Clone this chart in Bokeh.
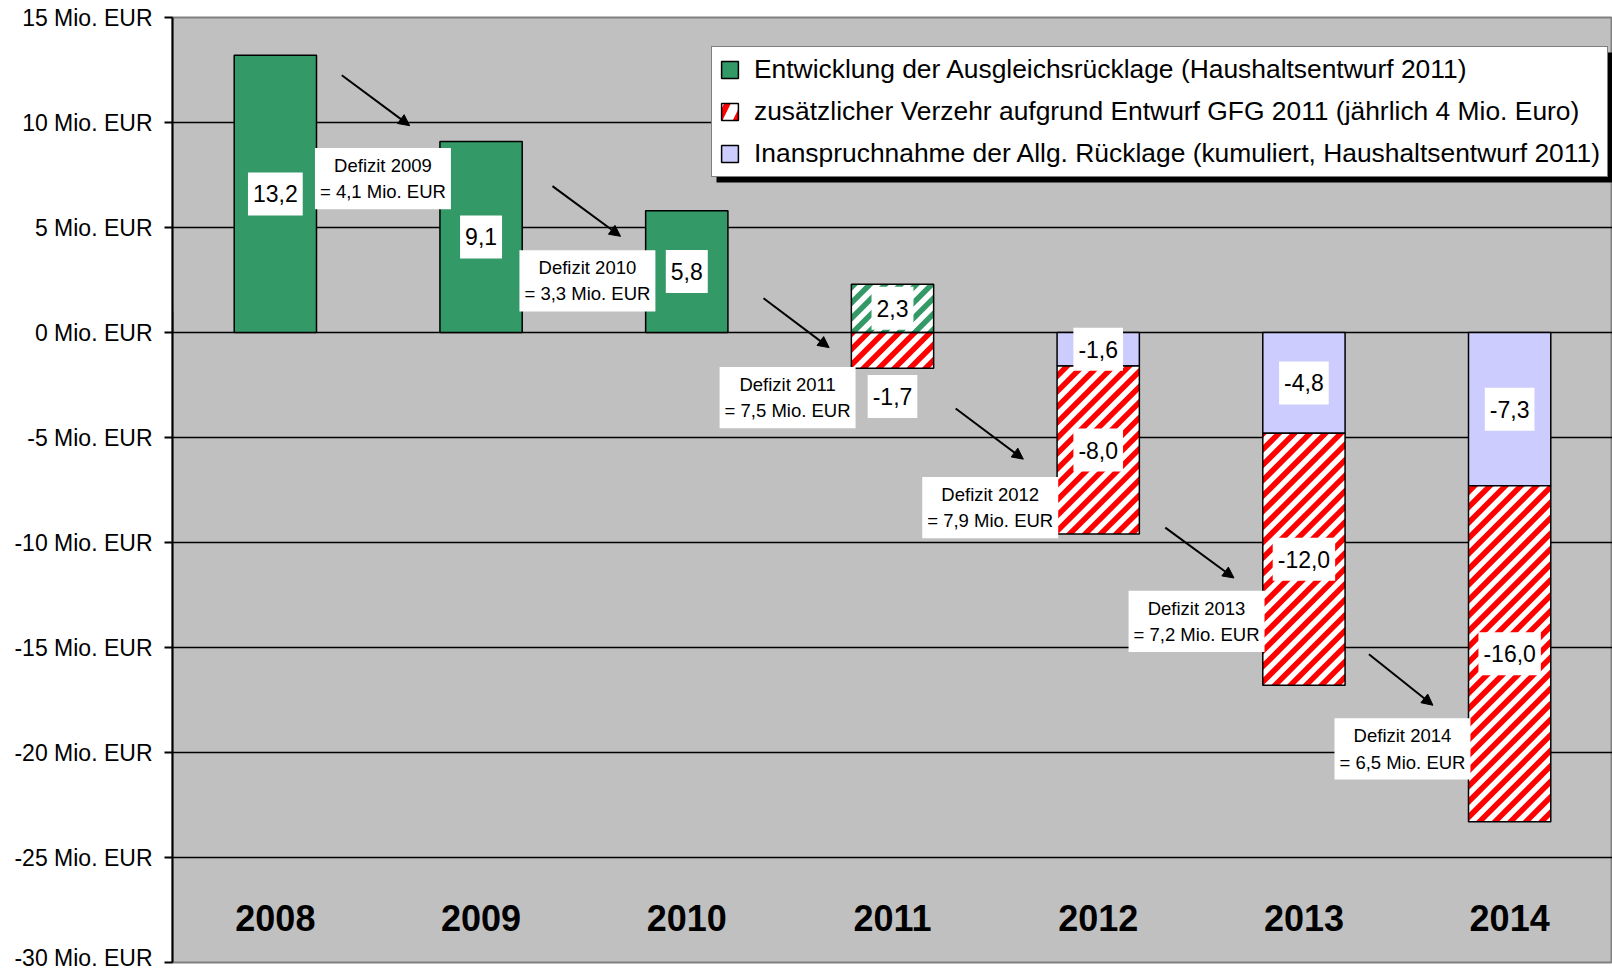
import math
from bokeh.plotting import figure
from bokeh.models import (Range1d, ColumnDataSource, Label, Arrow, NormalHead, Legend,
                          LegendItem, FixedTicker, CustomJSTickFormatter, BoxAnnotation)
from bokeh.core.properties import value
from bokeh.embed import file_html
from bokeh.resources import INLINE

# ---------------- data ----------------
years = ["2008", "2009", "2010", "2011", "2012", "2013", "2014"]
ausgleichsruecklage = [13.2, 9.1, 5.8, 2.3, 0.0, 0.0, 0.0]
zusaetzlicher_verzehr = [0.0, 0.0, 0.0, -1.7, -8.0, -12.0, -16.0]
allg_ruecklage = [0.0, 0.0, 0.0, 0.0, -1.6, -4.8, -7.3]
defizit = [None, 4.1, 3.3, 7.5, 7.9, 7.2, 6.5]
y_ticks = [-30, -25, -20, -15, -10, -5, 0, 5, 10, 15]
legend_labels = [
    "Entwicklung der Ausgleichsrücklage (Haushaltsentwurf 2011)",
    "zusätzlicher Verzehr aufgrund Entwurf GFG 2011 (jährlich 4 Mio. Euro)",
    "Inanspruchnahme der Allg. Rücklage (kumuliert, Haushaltsentwurf 2011)",
]

# annotation placement (data coordinates of the "Defizit" boxes and arrows)
defizit_box_x = [None, 0.523, 1.517, 2.49, 3.475, 4.478, 5.479]
defizit_box_y = [None, 7.33, 2.46, -3.1, -8.34, -13.76, -19.83]
arrow_x0 = [0.323, 1.347, 2.373, 3.307, 4.326, 5.316]
arrow_y0 = [12.25, 6.97, 1.63, -3.62, -9.29, -15.32]
arrow_x1 = [0.653, 1.678, 2.692, 3.636, 4.660, 5.627]
arrow_y1 = [9.85, 4.58, -0.72, -6.03, -11.69, -17.75]
year_label_y = -27.9

FONT = "Liberation Sans"
GREEN = "#339966"
RED = "#FF0000"
LAVENDER = "#CCCCFF"

# ---------------- figure geometry ----------------
X_RANGE = (-0.5, 6.5)
Y_RANGE = (-30, 15)
FRAME_W, FRAME_H = 1440, 945
PX_X = FRAME_W / (X_RANGE[1] - X_RANGE[0])   # pixels per x unit
PX_Y = FRAME_H / (Y_RANGE[1] - Y_RANGE[0])   # pixels per y unit


def fmt(v):
    return f"{v:.1f}".replace(".", ",")


idx = list(range(len(years)))

p = figure(width=172 + FRAME_W, height=17 + FRAME_H + 8,
           x_range=Range1d(*X_RANGE), y_range=Range1d(*Y_RANGE),
           output_backend="svg", toolbar_location=None,
           x_axis_location=None,
           min_border_left=172, min_border_top=17, min_border_right=0, min_border_bottom=8)

p.background_fill_color = "#C0C0C0"
p.border_fill_color = "white"
p.outline_line_color = "#808080"
p.outline_line_width = 2

p.xgrid.visible = False
p.ygrid.ticker = FixedTicker(ticks=[t for t in y_ticks if Y_RANGE[0] < t < Y_RANGE[1]])
p.ygrid.grid_line_color = "black"
p.ygrid.grid_line_width = 1.6

ax = p.yaxis[0]
ax.ticker = FixedTicker(ticks=y_ticks)
ax.formatter = CustomJSTickFormatter(code="return tick + ' Mio. EUR'")
ax.major_label_text_font = FONT
ax.major_label_text_font_size = "23px"
ax.major_label_text_color = "black"
ax.major_tick_out = 8
ax.major_tick_in = 0
ax.minor_tick_out = 0
ax.minor_tick_in = 0
ax.axis_line_width = 2
ax.major_tick_line_width = 2
ax.major_label_standoff = 12


# ---------------- 45° stripe helper ----------------
def clip_poly(poly, a, b, c):
    """keep part of polygon where a*X + b*Y + c >= 0"""
    out = []
    n = len(poly)
    for k in range(n):
        P1, P2 = poly[k], poly[(k + 1) % n]
        d1 = a * P1[0] + b * P1[1] + c
        d2 = a * P2[0] + b * P2[1] + c
        if d1 >= 0:
            out.append(P1)
        if (d1 >= 0) != (d2 >= 0):
            t = d1 / (d1 - d2)
            out.append((P1[0] + t * (P2[0] - P1[0]), P1[1] + t * (P2[1] - P1[1])))
    return out


def stripes(x0, x1, y0, y1, period=15.5, red_w=7.8):
    """diagonal '/' stripes (45° on screen) inside a data rectangle"""
    X0, X1 = x0 * PX_X, x1 * PX_X
    Y0, Y1 = min(y0, y1) * PX_Y, max(y0, y1) * PX_Y
    rect = [(X0, Y0), (X1, Y0), (X1, Y1), (X0, Y1)]
    xs, ys = [], []
    c = math.floor((X0 - Y1) / period) * period
    while c < X1 - Y0:
        poly = clip_poly(rect, 1, -1, -c)            # X - Y >= c
        poly = clip_poly(poly, -1, 1, c + red_w)     # X - Y <= c + w
        if len(poly) >= 3:
            xs.append([q[0] / PX_X for q in poly])
            ys.append([q[1] / PX_Y for q in poly])
        c += period
    return xs, ys


# ---------------- bars ----------------
BW = 0.40
solid_idx = [i for i in idx if ausgleichsruecklage[i] > 0 and zusaetzlicher_verzehr[i] == 0]
hatch_g_idx = [i for i in idx if ausgleichsruecklage[i] > 0 and zusaetzlicher_verzehr[i] != 0]
lav_idx = [i for i in idx if allg_ruecklage[i] != 0]
red_idx = [i for i in idx if zusaetzlicher_verzehr[i] != 0]

src_green = ColumnDataSource(dict(x=solid_idx, top=[ausgleichsruecklage[i] for i in solid_idx]))
r_green = p.vbar(x="x", top="top", bottom=0, width=BW, source=src_green,
                 fill_color=GREEN, line_color="black", line_width=1.5)

src_lav = ColumnDataSource(dict(x=lav_idx, bottom=[allg_ruecklage[i] for i in lav_idx]))
r_lav = p.vbar(x="x", top=0, bottom="bottom", width=BW, source=src_lav,
               fill_color=LAVENDER, line_color="black", line_width=1.5)

src_green_h = ColumnDataSource(dict(x=hatch_g_idx, top=[ausgleichsruecklage[i] for i in hatch_g_idx],
                                    bottom=[0.0] * len(hatch_g_idx)))
src_red = ColumnDataSource(dict(x=red_idx,
                                top=[allg_ruecklage[i] for i in red_idx],
                                bottom=[allg_ruecklage[i] + zusaetzlicher_verzehr[i] for i in red_idx]))

# white base of the hatched bars
for src in (src_green_h, src_red):
    p.vbar(x="x", top="top", bottom="bottom", width=BW, source=src,
           fill_color="white", line_color=None)

# stripes
for src, col in ((src_green_h, GREEN), (src_red, RED)):
    sx, sy = [], []
    d = src.data
    for x, t, b in zip(d["x"], d["top"], d["bottom"]):
        xs, ys = stripes(x - BW / 2, x + BW / 2, b, t)
        sx += xs
        sy += ys
    p.patches(xs=sx, ys=sy, fill_color=col, line_color=None)

# outlines of the hatched bars
for src in (src_green_h, src_red):
    p.vbar(x="x", top="top", bottom="bottom", width=BW, source=src,
           fill_alpha=0, line_color="black", line_width=1.5)

# legend swatch for the hatched series (off-screen dummy bar)
r_red_leg = p.vbar(x=[-5], top=[1], bottom=[0], width=BW, fill_color="white",
                   hatch_pattern="/", hatch_color=RED, hatch_scale=34, hatch_weight=6,
                   line_color="black", line_width=1.5)


# ---------------- value labels ----------------
def add_label(x, y, text, size="23px", pad=(5, 13), line_height=1.2):
    p.add_layout(Label(x=x, y=y, text=text, text_align="center", text_baseline="middle",
                       text_font=FONT, text_font_size=size, text_color="black",
                       text_line_height=line_height,
                       background_fill_color="white", background_fill_alpha=1.0,
                       padding=pad))


for i in idx:
    a = ausgleichsruecklage[i]
    if a > 0:
        add_label(i, a / 2, fmt(a))
    g = allg_ruecklage[i]
    if g != 0:
        add_label(i, g / 2, fmt(g))
    v = zusaetzlicher_verzehr[i]
    if v != 0:
        if g == 0:
            # label placed below the short bar
            add_label(i, g + v - 1.35, fmt(v))
        else:
            add_label(i, g + v / 2, fmt(v))

# ---------------- Defizit boxes & arrows ----------------
for i in idx:
    if defizit[i] is None:
        continue
    add_label(defizit_box_x[i], defizit_box_y[i],
              f"Defizit {years[i]}\n= {fmt(defizit[i])} Mio. EUR",
              size="18.5px", pad=(5, 7), line_height=1.25)

for x0, y0, x1, y1 in zip(arrow_x0, arrow_y0, arrow_x1, arrow_y1):
    p.add_layout(Arrow(x_start=x0, y_start=y0, x_end=x1, y_end=y1,
                       line_color="black", line_width=2,
                       end=NormalHead(size=11, fill_color="black", line_color="black")))

# ---------------- year labels ----------------
p.text(x=idx, y=[year_label_y] * len(idx), text=years,
       text_font=value(FONT), text_font_style="bold", text_font_size="36px",
       text_align="center", text_baseline="middle", text_color="black")

# ---------------- legend ----------------
p.add_layout(BoxAnnotation(left=544, right=1440, bottom=780, top=910,
                           left_units="screen", right_units="screen",
                           bottom_units="screen", top_units="screen",
                           fill_color="black", fill_alpha=1.0, line_alpha=0))
legend = Legend(items=[LegendItem(label=legend_labels[0], renderers=[r_green]),
                       LegendItem(label=legend_labels[1], renderers=[r_red_leg]),
                       LegendItem(label=legend_labels[2], renderers=[r_lav])],
                location=(539, 785),
                label_text_font=FONT, label_text_font_size="26.4px", label_text_color="black",
                glyph_width=21, glyph_height=21, label_standoff=14,
                padding=7, spacing=11, margin=0,
                border_line_color="black", border_line_width=1.5,
                background_fill_color="white", background_fill_alpha=1.0)
p.add_layout(legend)

open("out.html", "w").write(file_html(p, INLINE))
